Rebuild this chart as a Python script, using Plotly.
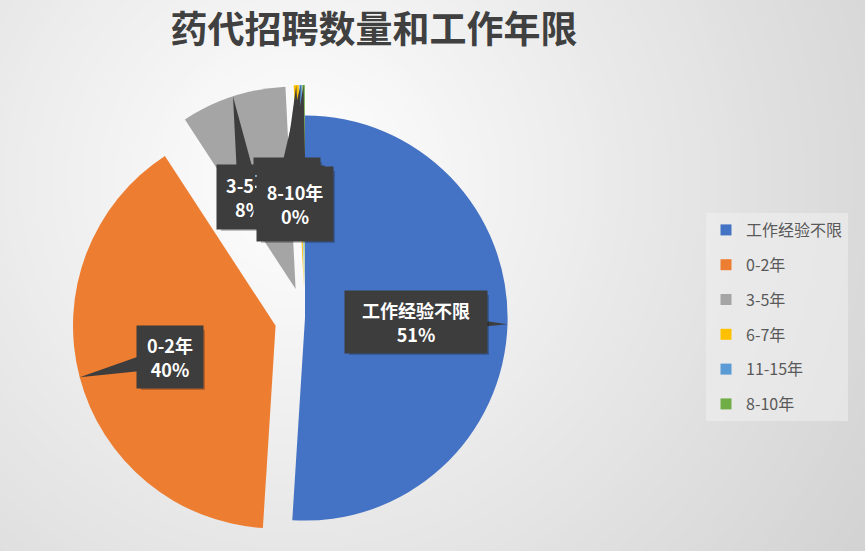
import math
import plotly.graph_objects as go

# 工作年限分类和招聘数量
labels = ["工作经验不限", "0-2年", "3-5年", "6-7年", "11-15年", "8-10年"]
counts = [510, 398, 84, 4, 2, 2]
colors = ["#4472C4", "#ED7D31", "#A5A5A5", "#FFC000", "#5B9BD5", "#70AD47"]
pulls = [0, 0.15, 0.15, 0.15, 0.15, 0.15]

W, H = 865, 551
font = "Noto Sans CJK SC"

# pie placement in pixels
cx, cy = 305, 318
half = H - cy
r = half / (1 + max(pulls))

# label box centres (pixels) and sizes
box_pos = [(416, 322), (170, 357), (249, 197), (292, 198), (287, 192), (295, 204)]
box_size = [(140, 60), (64, 60), (62, 62), (62, 62), (64, 66), (74, 72)]

fig = go.Figure()

fig.add_trace(go.Pie(
    labels=labels, values=counts, sort=False, direction="clockwise", rotation=0,
    marker=dict(colors=colors), pull=pulls, textinfo="none", showlegend=False,
    domain=dict(x=[(cx - half) / W, (cx + half) / W], y=[0, 2 * half / H]),
))

# legend entries
for i, lab in enumerate(labels):
    fig.add_trace(go.Scatter(
        x=[None], y=[None], mode="markers", name=lab, legendgroup=lab,
        marker=dict(symbol="square", size=11, color=colors[i]),
    ))


def px(x, y):
    return x / W, 1 - y / H


# radial grey background
shapes = []
gx, gy = 300, 180
steps = 90
for k in range(steps):
    d = 720 * (1 - k / steps)
    g = 255 - 0.066 * d
    x0, y1 = px(gx - d, gy - d)
    x1, y0 = px(gx + d, gy + d)
    shapes.append(dict(
        type="circle", xref="paper", yref="paper", layer="below",
        x0=x0, x1=x1, y0=y0, y1=y1,
        fillcolor=f"rgb({g:.1f},{g:.1f},{g:.1f})", line=dict(width=0),
    ))

# callout labels, pointer tip on the outer edge at each slice's middle angle
total = sum(counts)
annotations = []
acc = 0
for i, lab in enumerate(labels):
    frac = counts[i] / total
    mid = (acc + frac / 2) * 2 * math.pi
    acc += frac
    rr = r * (1 + pulls[i])
    tx = cx + rr * math.sin(mid)
    ty = cy - rr * math.cos(mid)
    bx, by = box_pos[i]
    bw, bh = box_size[i]

    # wedge pointer
    dx, dy = tx - bx, ty - by
    n = math.hypot(dx, dy)
    ox, oy = -dy / n * 11, dx / n * 11
    pts = [px(bx + ox, by + oy), px(tx, ty), px(bx - ox, by - oy)]
    path = "M {} {} L {} {} L {} {} Z".format(*[v for p in pts for v in p])
    shapes.append(dict(type="path", path=path, xref="paper", yref="paper",
                       layer="above", fillcolor="#3d3d3d", line=dict(width=0)))

    # shadow
    sx0, sy1 = px(bx - bw / 2 + 3, by - bh / 2 + 3)
    sx1, sy0 = px(bx + bw / 2 + 3, by + bh / 2 + 3)
    shapes.append(dict(type="rect", xref="paper", yref="paper", layer="above",
                       x0=sx0, x1=sx1, y0=sy0, y1=sy1,
                       fillcolor="rgba(0,0,0,0.22)", line=dict(width=0)))

    ax_, ay_ = px(bx, by)
    annotations.append(dict(
        x=ax_, y=ay_, xref="paper", yref="paper", showarrow=False,
        xanchor="center", yanchor="middle",
        text=f"<b>{lab}<br>{round(frac * 100)}%</b>",
        font=dict(family=font, size=18, color="white"),
        bgcolor="#3d3d3d", width=bw, height=bh,
        align="center", valign="middle",
    ))

fig.update_layout(
    width=W, height=H,
    margin=dict(l=0, r=0, t=0, b=0),
    paper_bgcolor="#cfcfcf", plot_bgcolor="rgba(0,0,0,0)",
    xaxis=dict(visible=False), yaxis=dict(visible=False),
    title=dict(text="<b>药代招聘数量和工作年限</b>", x=374 / W, y=1 - 30 / H,
               xanchor="center", yanchor="middle",
               font=dict(family=font, size=37, color="#404040")),
    legend=dict(x=706 / W, y=1 - 213 / H, xanchor="left", yanchor="top",
                bgcolor="rgba(240,240,240,0.55)", tracegroupgap=11,
                font=dict(family=font, size=16, color="#595959")),
    shapes=shapes,
    annotations=annotations,
)

fig.write_html("out.html", config={"displayModeBar": False},
               post_script="document.body.style.margin='0';")
